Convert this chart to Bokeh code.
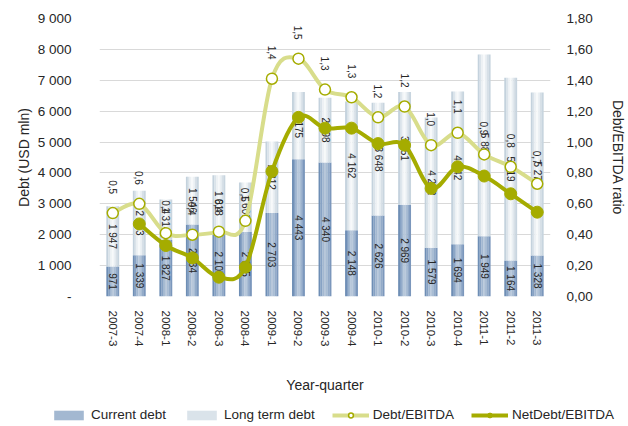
import math
from bokeh.plotting import figure
from bokeh.layouts import column
from bokeh.models import Range1d, LinearAxis, FixedTicker, Legend, LegendItem, ColumnDataSource
from bokeh.transform import dodge
from bokeh.core.properties import value
from bokeh.embed import file_html
from bokeh.resources import INLINE

# ---------------- data ----------------
quarters = ["2007-3", "2007-4", "2008-1", "2008-2", "2008-3", "2008-4",
            "2009-1", "2009-2", "2009-3", "2009-4", "2010-1", "2010-2",
            "2010-3", "2010-4", "2011-1", "2011-2", "2011-3"]
current_debt = [971, 1339, 1827, 2334, 2105, 2085, 2703, 4443, 4340,
                2148, 2626, 2969, 1579, 1694, 1949, 1164, 1328]
long_term_debt = [1947, 2083, 1314, 1546, 1818, 1608, 2312, 2175, 2098,
                  4162, 3648, 3651, 4212, 4942, 5887, 5919, 5277]
debt_ebitda = [0.54, 0.60, 0.41, 0.40, 0.42, 0.49, 1.41, 1.54, 1.34,
               1.29, 1.16, 1.23, 0.98, 1.06, 0.92, 0.84, 0.73]
netdebt_ebitda = [None, 0.47, 0.33, 0.25, 0.125, 0.19, 0.81, 1.16, 1.09,
                  1.09, 0.99, 0.98, 0.70, 0.84, 0.78, 0.665, 0.546]
left_ticks = [0, 1000, 2000, 3000, 4000, 5000, 6000, 7000, 8000, 9000]
left_tick_labels = ["-", "1 000", "2 000", "3 000", "4 000", "5 000",
                    "6 000", "7 000", "8 000", "9 000"]
right_ticks = [0.0, 0.2, 0.4, 0.6, 0.8, 1.0, 1.2, 1.4, 1.6, 1.8]
right_tick_labels = ["0,00", "0,20", "0,40", "0,60", "0,80", "1,00",
                     "1,20", "1,40", "1,60", "1,80"]

# ---------------- styles ----------------
FONT = "Liberation Sans"
TXT = "#262626"
LIGHT = "#d8dd8b"
DARK = "#a5ac00"
cur_colors = ["#6e8eb5", "#87a2c4", "#a3b8d1", "#b7c7da", "#a9bdd4", "#93abc9", "#7b97bc"]
lt_colors = ["#c4d2dd", "#dae3ea", "#edf1f4", "#f7f9fa", "#eaeff3", "#d7e0e7", "#c8d5df"]

n = len(quarters)
idx = list(range(n))
total = [c + l for c, l in zip(current_debt, long_term_debt)]

def fmt_thousands(v):
    return f"{v:,}".replace(",", " ")

src = ColumnDataSource(dict(
    x=idx, cur=current_debt, total=total,
    cur_mid=[c / 2 for c in current_debt],
    lt_mid=[c + l / 2 for c, l in zip(current_debt, long_term_debt)],
    cur_lbl=[fmt_thousands(v) for v in current_debt],
    lt_lbl=[fmt_thousands(v) for v in long_term_debt],
))

p = figure(width=628, height=400, output_backend="svg", toolbar_location=None,
           x_range=Range1d(-0.5, n - 0.5), y_range=Range1d(0, 9000),
           min_border_left=99, min_border_right=70, min_border_top=18,
           min_border_bottom=104)
p.extra_y_ranges = {"ratio": Range1d(0, 1.8)}
p.outline_line_color = None
p.background_fill_color = "white"
p.border_fill_color = "white"

# grid
lt_ticker = FixedTicker(ticks=left_ticks)
p.xgrid.visible = False
p.ygrid.ticker = lt_ticker
p.ygrid.grid_line_color = "#d9d9d9"
p.ygrid.grid_line_width = 1

# bars (gradient emulated with thin strips)
bar_w = 0.48
ns = len(cur_colors)
sw = bar_w / ns
for k in range(ns):
    off = -bar_w / 2 + (k + 0.5) * sw
    p.vbar(x=dodge("x", off), width=sw * 1.08, bottom=0, top="cur", source=src,
           fill_color=cur_colors[k], line_color=None)
    p.vbar(x=dodge("x", off), width=sw * 1.08, bottom="cur", top="total", source=src,
           fill_color=lt_colors[k], line_color=None)

# bar labels
lbl_kw = dict(angle=-math.pi / 2, text_align="center", text_baseline="middle",
              text_font=value(FONT), text_font_size="10px", text_color=TXT)
p.text(x="x", y="cur_mid", text="cur_lbl", source=src, **lbl_kw)
p.text(x="x", y="lt_mid", text="lt_lbl", source=src, **lbl_kw)

# smoothed lines (bezier through the data points)
def bezier_source(xs, ys):
    pts = [(x, y) for x, y in zip(xs, ys) if y is not None]
    d = dict(x0=[], y0=[], x1=[], y1=[], cx0=[], cy0=[], cx1=[], cy1=[])
    for i in range(len(pts) - 1):
        p0 = pts[i - 1] if i > 0 else pts[i]
        p1 = pts[i]
        p2 = pts[i + 1]
        p3 = pts[i + 2] if i + 2 < len(pts) else pts[i + 1]
        d["x0"].append(p1[0]); d["y0"].append(p1[1])
        d["x1"].append(p2[0]); d["y1"].append(p2[1])
        d["cx0"].append(p1[0] + (p2[0] - p0[0]) / 6)
        d["cy0"].append(p1[1] + (p2[1] - p0[1]) / 6)
        d["cx1"].append(p2[0] - (p3[0] - p1[0]) / 6)
        d["cy1"].append(p2[1] - (p3[1] - p1[1]) / 6)
    return ColumnDataSource(d)

bz_kw = dict(x0="x0", y0="y0", x1="x1", y1="y1", cx0="cx0", cy0="cy0", cx1="cx1", cy1="cy1",
             y_range_name="ratio", line_width=4, line_cap="round")
p.bezier(source=bezier_source(idx, debt_ebitda), line_color=LIGHT, **bz_kw)
nd_x = [i for i, v in zip(idx, netdebt_ebitda) if v is not None]
nd_y = [v for v in netdebt_ebitda if v is not None]
p.bezier(source=bezier_source(idx, netdebt_ebitda), line_color=DARK, **bz_kw)
p.scatter(idx, debt_ebitda, y_range_name="ratio", marker="circle", size=11,
          fill_color="white", line_color=DARK, line_width=1.5)
p.scatter(nd_x, nd_y, y_range_name="ratio", marker="circle", size=12,
          fill_color=DARK, line_color=DARK)

# ratio labels
ratio_src = ColumnDataSource(dict(x=idx, y=debt_ebitda,
                                  t=[f"{v:.1f}".replace(".", ",") for v in debt_ebitda]))
p.text(x="x", y="y", text="t", source=ratio_src, y_range_name="ratio",
       y_offset=-26, **lbl_kw)

# axes
p.yaxis.ticker = lt_ticker
p.yaxis.major_label_overrides = dict(zip(left_ticks, left_tick_labels))
p.yaxis.axis_label = "Debt (USD mln)"
p.xaxis.ticker = FixedTicker(ticks=idx)
p.xaxis.major_label_overrides = dict(zip(idx, quarters))
p.xaxis.major_label_orientation = -math.pi / 2
p.xaxis.axis_label = "Year-quarter"

ra = LinearAxis(y_range_name="ratio", ticker=FixedTicker(ticks=right_ticks),
                axis_label="Debt/EBITDA ratio")
ra.major_label_overrides = dict(zip(right_ticks, right_tick_labels))
p.add_layout(ra, "right")

for ax in [p.xaxis[0], p.yaxis[0], ra]:
    ax.axis_line_color = None
    ax.major_tick_line_color = None
    ax.minor_tick_line_color = None
    ax.major_label_text_font = FONT
    ax.major_label_text_color = TXT
    ax.axis_label_text_font = FONT
    ax.axis_label_text_font_style = "normal"
    ax.axis_label_text_color = TXT
    ax.axis_label_text_font_size = "14px"
    ax.major_label_text_font_size = "13.5px"
p.xaxis.major_label_text_font_size = "11.5px"
p.yaxis.major_label_standoff = 22
p.yaxis.axis_label_standoff = 3
ra.major_label_standoff = 10
ra.axis_label_standoff = 14
p.xaxis.major_label_standoff = 8
p.xaxis.axis_label_standoff = 28

# legend strip (separate small figure under the chart; proxies sit outside its range)
lg = figure(width=628, height=26, output_backend="svg", toolbar_location=None,
            x_range=Range1d(0, 1), y_range=Range1d(0, 1),
            x_axis_type=None, y_axis_type=None,
            min_border_left=0, min_border_right=0, min_border_top=0, min_border_bottom=0)
lg.frame_align = False
lg.outline_line_color = None
lg.xgrid.visible = False
lg.ygrid.visible = False
off_x, off_y = [5], [5]
lg_cur = lg.vbar(x=off_x, top=off_y, width=1, fill_color=cur_colors[2], line_color=None)
lg_lt = lg.vbar(x=off_x, top=off_y, width=1, fill_color=lt_colors[1], line_color=None)
lg_l1 = lg.line(x=off_x, y=off_y, line_color=LIGHT, line_width=4)
lg_m1 = lg.scatter(x=off_x, y=off_y, marker="circle", size=9, fill_color="white",
                   line_color=DARK, line_width=1.5)
lg_l2 = lg.line(x=off_x, y=off_y, line_color=DARK, line_width=4)
lg_m2 = lg.scatter(x=off_x, y=off_y, marker="circle", size=9, fill_color=DARK, line_color=DARK)
legend = Legend(items=[
    LegendItem(label="Current debt", renderers=[lg_cur]),
    LegendItem(label="Long term debt", renderers=[lg_lt]),
    LegendItem(label="Debt/EBITDA", renderers=[lg_l1, lg_m1]),
    LegendItem(label="NetDebt/EBITDA", renderers=[lg_l2, lg_m2]),
], orientation="horizontal", location=(50, 4),
    label_text_font=FONT, label_text_font_size="13.5px", label_text_color=TXT,
    glyph_width=37, glyph_height=12, label_standoff=4, spacing=17, padding=0,
    margin=0, label_height=14, border_line_color=None, background_fill_alpha=0)
lg.add_layout(legend)

open("out.html", "w").write(file_html(column(p, lg, spacing=0), INLINE))
